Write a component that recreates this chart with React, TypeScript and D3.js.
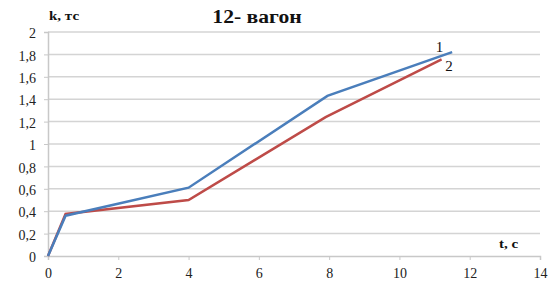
import { useEffect, useRef } from "react";
import * as d3 from "d3";

// series
const series1 = [
  { t: 0, k: 0 },
  { t: 0.5, k: 0.36 },
  { t: 4, k: 0.61 },
  { t: 7.95, k: 1.43 },
  { t: 11.5, k: 1.82 },
];
const series2 = [
  { t: 0, k: 0 },
  { t: 0.5, k: 0.375 },
  { t: 4, k: 0.5 },
  { t: 7.9, k: 1.24 },
  { t: 11.2, k: 1.755 },
];
const xTicks = [0, 2, 4, 6, 8, 10, 12, 14];
const yTicks = [0, 0.2, 0.4, 0.6, 0.8, 1, 1.2, 1.4, 1.6, 1.8, 2];

const W = 552;
const H = 282;
const FONT = "Liberation Serif, Times New Roman, serif";

export default function App() {
  const ref = useRef<SVGSVGElement>(null);

  useEffect(() => {
    if (!ref.current) return;
    const svg = d3.select(ref.current);
    svg.selectAll("*").remove();

    const x = d3.scaleLinear().domain([0, 14]).range([48, 540]);
    const y = d3.scaleLinear().domain([0, 2]).range([256, 32]);

    svg.append("rect").attr("width", W).attr("height", H).attr("fill", "#fff");

    // grid lines
    svg.append("g")
      .selectAll("line")
      .data(yTicks.filter(d => d > 0))
      .enter()
      .append("line")
      .attr("x1", x(0))
      .attr("x2", x(14))
      .attr("y1", d => y(d))
      .attr("y2", d => y(d))
      .attr("stroke", "#d4d4d4")
      .attr("stroke-width", 1.5);

    // Y axis
    svg.append("g")
      .attr("transform", `translate(${x(0)},0)`)
      .call(d3.axisLeft(y).tickValues(yTicks).tickSize(4).tickPadding(8)
        .tickFormat(d => d3.format("~g")(d as number).replace(".", ",")))
      .call(g => g.attr("font-family", null))
      .call(g => g.select(".domain").attr("stroke", "#c8c8c8").attr("stroke-width", 1.5))
      .call(g => g.selectAll(".tick line").attr("stroke", "#c8c8c8"))
      .call(g => g.selectAll(".tick text").attr("fill", "#222").attr("dy", "0.4em")
        .style("font-size", "14px").style("font-family", FONT));

    // X axis
    svg.append("g")
      .attr("transform", `translate(0,${y(0)})`)
      .call(d3.axisBottom(x).tickValues(xTicks).tickSize(4).tickPadding(8))
      .call(g => g.attr("font-family", null))
      .call(g => g.select(".domain").attr("stroke", "#c8c8c8").attr("stroke-width", 1.5))
      .call(g => g.selectAll(".tick line").attr("stroke", "#c8c8c8"))
      .call(g => g.selectAll(".tick text").attr("fill", "#222")
        .style("font-size", "14px").style("font-family", FONT));

    const line = d3.line<{ t: number; k: number }>()
      .x(d => x(d.t))
      .y(d => y(d.k));

    svg.append("path")
      .datum(series2)
      .attr("fill", "none")
      .attr("stroke", "#be4b48")
      .attr("stroke-width", 2.5)
      .attr("d", line);

    svg.append("path")
      .datum(series1)
      .attr("fill", "none")
      .attr("stroke", "#4a7ebb")
      .attr("stroke-width", 2.5)
      .attr("d", line);

    // text, stretched a little sideways like the source image
    const label = (tx: number, ty: number, s: string, size: number, bold: boolean, sx: number, anchor = "start") =>
      svg.append("text")
        .attr("transform", `translate(${tx},${ty}) scale(${sx},1)`)
        .attr("text-anchor", anchor)
        .attr("fill", "#111")
        .style("font-family", FONT)
        .style("font-size", `${size}px`)
        .style("font-weight", bold ? "bold" : "normal")
        .text(s);

    // series labels
    label(439.5, 52, "1", 15, false, 1, "middle");
    label(449, 70.5, "2", 15, false, 1, "middle");

    // title and axis names
    label(257, 23, "12- вагон", 19, true, 1.14, "middle");
    label(49, 20, "k, тс", 12.5, true, 1.2);
    label(499, 247.5, "t, с", 12.5, true, 1.2);
  }, []);

  return (
    <svg ref={ref} width={W} height={H} style={{ position: "absolute", left: 0, top: 0 }} />
  );
}
